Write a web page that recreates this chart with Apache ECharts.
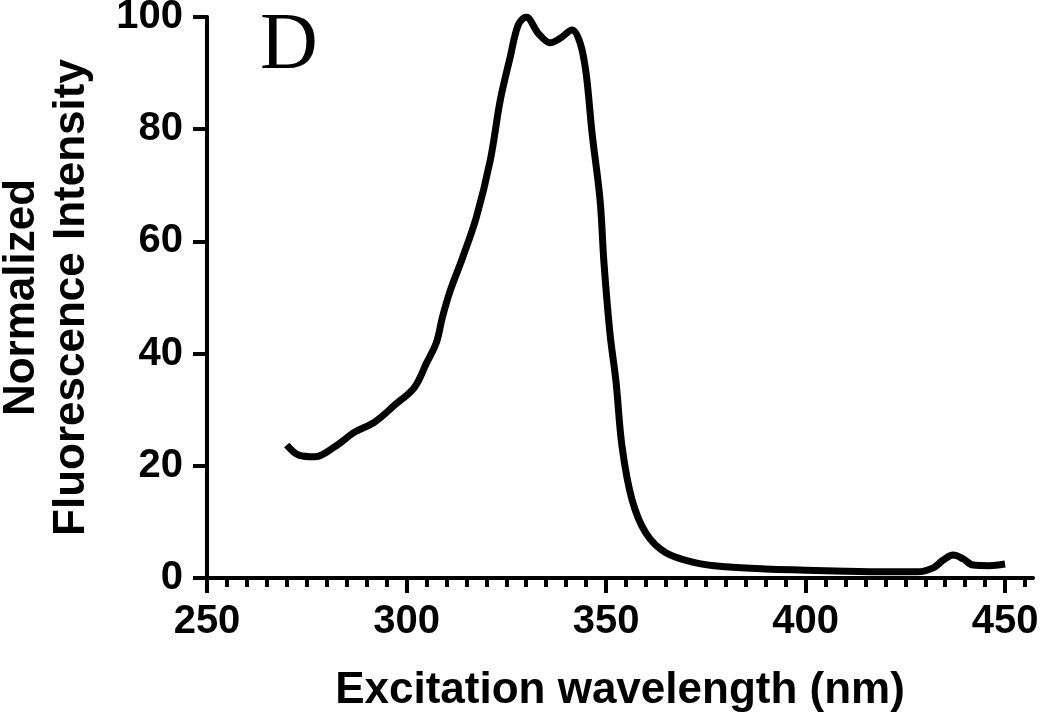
<!DOCTYPE html>
<html>
<head>
<meta charset="utf-8">
<script src="https://cdn.jsdelivr.net/npm/echarts@6/dist/echarts.min.js"></script>
<style>
  html, body { margin: 0; padding: 0; background: #fff; }
  #chart { width: 1050px; height: 720px; }
</style>
</head>
<body>
<div id="chart"></div>
<script>
// excitation spectrum
const wavelength = [270, 273, 277, 282, 287, 292, 297, 302, 305, 307.5, 309, 311, 314, 317.5, 321, 323.5, 326, 328, 330, 333, 336, 338.5, 341.5, 343.5, 345, 346.5, 348.5, 349.5, 351, 352.5, 354, 356.5, 360, 365, 372.5, 380, 390, 400, 410, 420, 428, 432, 434.5, 437, 439.5, 442, 446, 450]
const intensity = [23.7, 21.9, 21.6, 23.4, 26, 27.8, 30.8, 34, 38.3, 42, 46.5, 51.3, 57, 64.3, 74.5, 85.2, 92.9, 98.6, 100, 97.1, 95.4, 96.2, 97.7, 95.4, 90, 79.3, 67.4, 56, 43.5, 35, 23.5, 14, 8, 4.5, 2.7, 2.0, 1.6, 1.4, 1.2, 1.1, 1.1, 1.8, 3.2, 4.1, 3.4, 2.3, 2.2, 2.5]

const xMajorTicks = [250, 300, 350, 400, 450]
const xMinorTicks = [255, 260, 265, 270, 275, 280, 285, 290, 295, 305, 310, 315, 320, 325, 330, 335, 340, 345, 355, 360, 365, 370, 375, 380, 385, 390, 395, 405, 410, 415, 420, 425, 430, 435, 440, 445, 455]

const font = '"Liberation Sans", Arial, sans-serif'

const chart = echarts.init(document.getElementById('chart'))

chart.setOption({
  animation: false,
  grid: { left: 207, right: 17, top: 17, bottom: 142, containLabel: false, outerBoundsMode: 'none' },
  graphic: [{
    type: 'text',
    left: 260,
    top: 7,
    style: { text: 'D', font: '80px "Liberation Serif", "Times New Roman", serif', fill: '#000' }
  }],
  xAxis: [{
    type: 'value',
    min: 250,
    max: 457,
    splitLine: { show: false },
    axisLine: { onZero: false, lineStyle: { color: '#000', width: 4 } },
    axisTick: { customValues: xMajorTicks, length: 15, lineStyle: { color: '#000', width: 4 } },
    axisLabel: { customValues: xMajorTicks, margin: 24, color: '#000', fontSize: 40, fontWeight: 'bold', fontFamily: font },
    name: 'Excitation wavelength (nm)',
    nameLocation: 'middle',
    nameGap: 91,
    nameTextStyle: { color: '#000', fontSize: 44, fontWeight: 'bold', fontFamily: font }
  }, {
    // minor ticks every 5 nm
    type: 'value',
    position: 'bottom',
    min: 250,
    max: 457,
    splitLine: { show: false },
    axisLine: { show: false },
    axisTick: { customValues: xMinorTicks, length: 9, lineStyle: { color: '#000', width: 4 } },
    axisLabel: { show: false }
  }],
  yAxis: {
    type: 'value',
    min: 0,
    max: 100,
    interval: 20,
    splitLine: { show: false },
    axisLine: { show: true, lineStyle: { color: '#000', width: 4 } },
    axisTick: { show: true, length: 14, lineStyle: { color: '#000', width: 4 } },
    axisLabel: { margin: 24, color: '#000', fontSize: 40, fontWeight: 'bold', fontFamily: font },
    name: 'Normalized\nFluorescence Intensity',
    nameLocation: 'middle',
    nameRotate: 90,
    nameGap: 110,
    nameTextStyle: { color: '#000', fontSize: 44, fontWeight: 'bold', fontFamily: font, lineHeight: 50 }
  },
  series: [{
    type: 'line',
    data: wavelength.map((w, i) => [w, intensity[i]]),
    showSymbol: false,
    smooth: 0.35,
    lineStyle: { color: '#000', width: 7 }
  }]
})
</script>
</body>
</html>
